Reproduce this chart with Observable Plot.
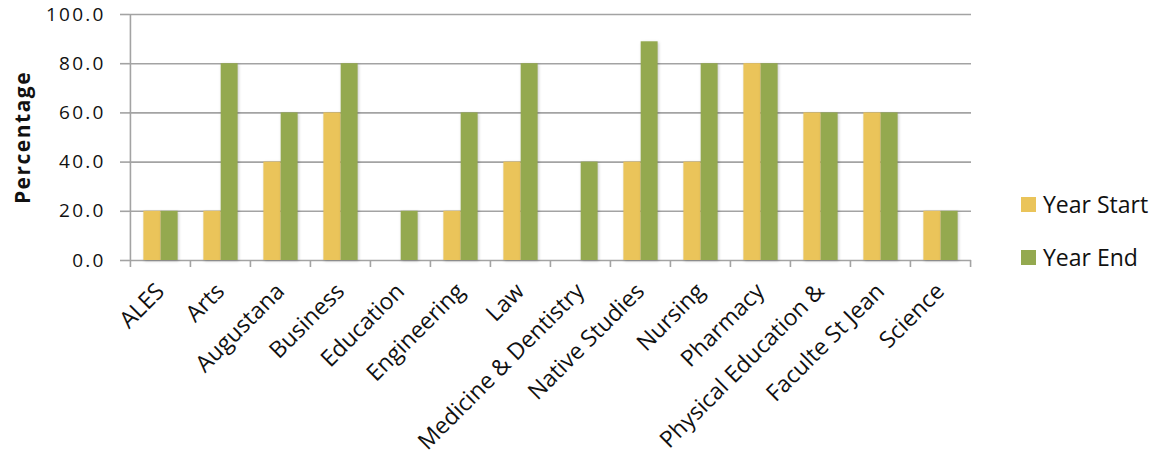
<!DOCTYPE html>
<html>
<head>
<meta charset="utf-8">
<script src="https://cdn.jsdelivr.net/npm/d3@7"></script>
<script src="https://cdn.jsdelivr.net/npm/@observablehq/plot@0.6"></script>
<style>
  body { margin: 0; background: #fff; }
  #chart { position: relative; width: 1165px; height: 460px; font-family: "Open Sans", sans-serif; }
  #chart svg g[aria-label="bar"] rect { filter: drop-shadow(1.5px 1px 1.5px rgba(0,0,0,0.22)); }
  #chart svg g[aria-label="y-axis tick label"] text { letter-spacing: 2.2px; }
  #chart svg g[aria-label="text"] text { letter-spacing: 1.5px; }
  .legend { position: absolute; left: 1021px; top: 190px; font-size: 23px; color: #111; }
  .legend .item { display: flex; align-items: center; height: 28px; margin-bottom: 25px; }
  .legend .swatch { width: 15px; height: 15px; margin-right: 7px; flex: none; }
</style>
</head>
<body>
<div id="chart"></div>
<script>
// Faculties and their percentages at the start and end of the year
const faculties = [
  "ALES", "Arts", "Augustana", "Business", "Education", "Engineering", "Law",
  "Medicine & Dentistry", "Native Studies", "Nursing", "Pharmacy",
  "Physical Education &", "Faculte St Jean", "Science"
];
const yearStart = [20, 20, 40, 60, null, 20, 40, null, 40, 40, 80, 60, 60, 20];
const yearEnd   = [20, 80, 60, 80, 20, 60, 80, 40, 88.9, 80, 80, 60, 60, 20];
const seriesNames = ["Year Start", "Year End"];
const seriesColors = ["#EAC45A", "#94A94F"];
const yTicks = [0, 20, 40, 60, 80, 100];

const width = 1165, height = 460;
const marginLeft = 129, marginRight = 194, marginTop = 14, marginBottom = 200;
const step = (width - marginLeft - marginRight) / faculties.length;

const startRows = faculties.map((f, i) => ({faculty: f, value: yearStart[i]})).filter(d => d.value != null);
const endRows = faculties.map((f, i) => ({faculty: f, value: yearEnd[i]})).filter(d => d.value != null);

const grid = "#a3a3a3";

const chart = Plot.plot({
  width, height, marginLeft, marginRight, marginTop, marginBottom,
  style: {fontFamily: "Open Sans, sans-serif", color: "#111", background: "#fff"},
  x: {domain: faculties, padding: 0, label: null},
  y: {domain: [0, 100], label: null},
  marks: [
    // horizontal gridlines
    Plot.ruleY(yTicks, {stroke: grid, strokeWidth: 1.6}),
    // left axis line
    Plot.ruleX([faculties[0]], {y1: 0, y2: 100, dx: -step / 2, stroke: grid, strokeWidth: 1.6}),
    // category boundary ticks below the baseline
    Plot.ruleX(faculties, {y1: 0, y2: 0, dx: -step / 2, insetBottom: -7, stroke: grid, strokeWidth: 1.6}),
    Plot.ruleX([faculties[faculties.length - 1]], {y1: 0, y2: 0, dx: step / 2, insetBottom: -7, stroke: grid, strokeWidth: 1.6}),
    // bars
    Plot.barY(startRows, {x: "faculty", y: "value", fill: seriesColors[0], insetLeft: 13.4, insetRight: 29.4}),
    Plot.barY(endRows, {x: "faculty", y: "value", fill: seriesColors[1], insetLeft: 30.7, insetRight: 12.4}),
    // axes
    Plot.axisY({ticks: yTicks, tickFormat: d => d.toFixed(1), tickSize: 9, tickPadding: 15, stroke: grid, strokeWidth: 1.6, label: null, fontSize: 19}),
    Plot.axisX({tickSize: 0, tickRotate: -45, tickPadding: 27, dx: 0, label: null, fontSize: 23}),
    // y-axis title
    Plot.text(["Percentage"], {frameAnchor: "left", textAnchor: "middle", dx: -106, rotate: -90, fontWeight: "bold", fontSize: 21, fill: "#111"})
  ]
});

const root = document.getElementById("chart");
root.appendChild(chart);

const legend = document.createElement("div");
legend.className = "legend";
seriesNames.forEach((name, i) => {
  const item = document.createElement("div");
  item.className = "item";
  const sw = document.createElement("span");
  sw.className = "swatch";
  sw.style.background = seriesColors[i];
  const label = document.createElement("span");
  label.textContent = name;
  item.appendChild(sw);
  item.appendChild(label);
  legend.appendChild(item);
});
root.appendChild(legend);
</script>
</body>
</html>
